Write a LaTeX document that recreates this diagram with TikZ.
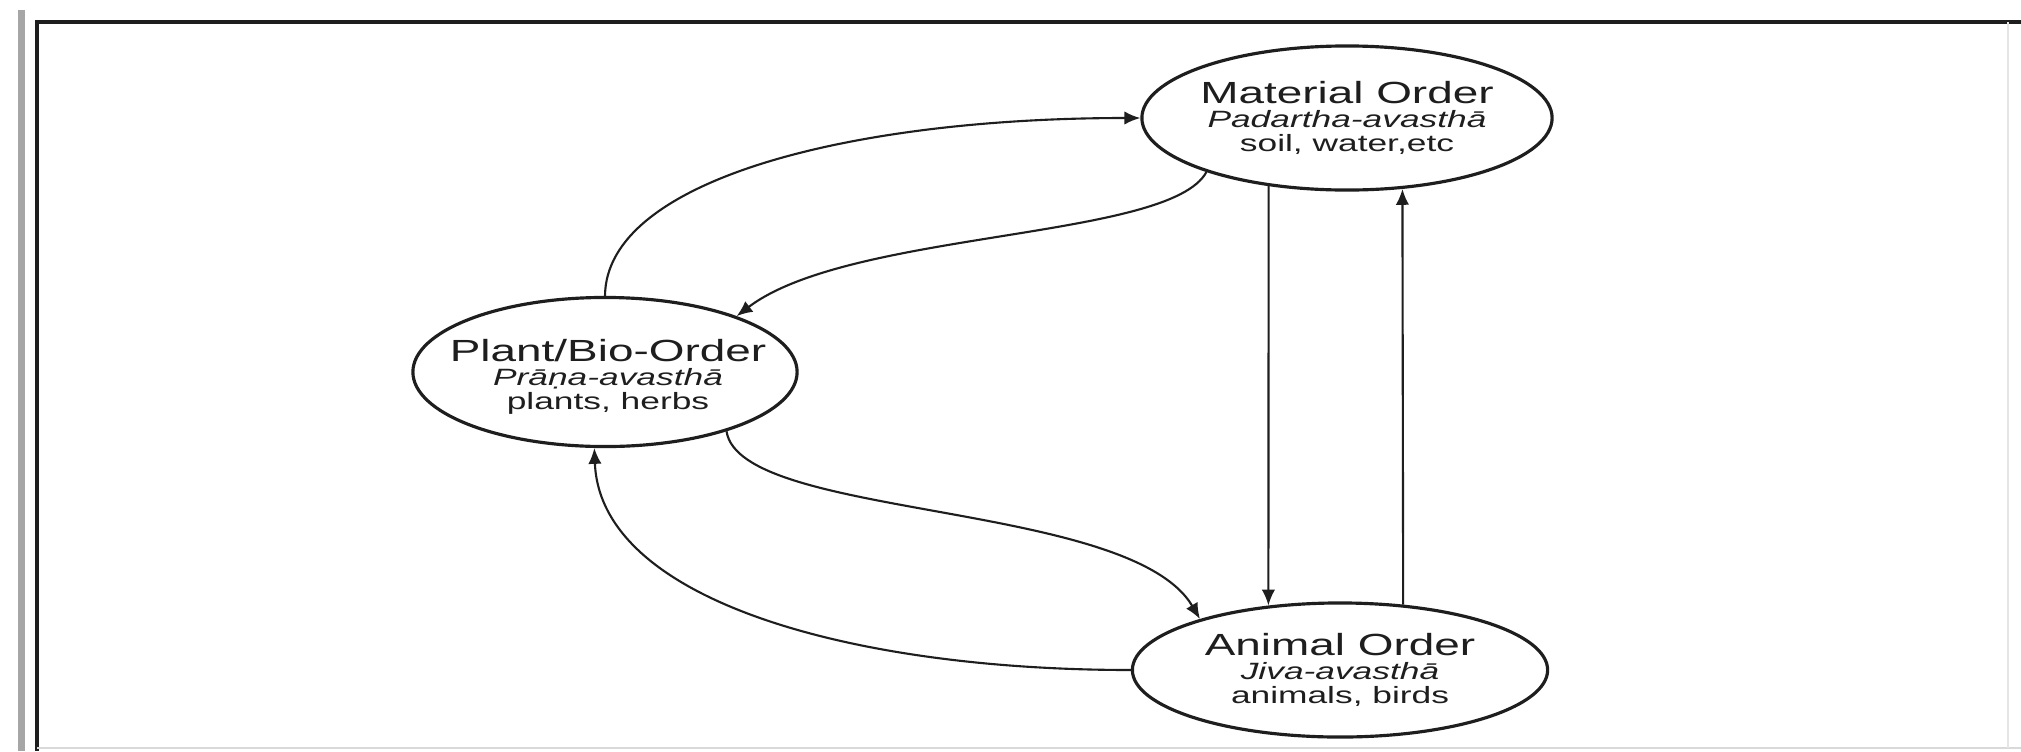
\documentclass[tikz,border=0pt]{standalone}
\usepackage{fontspec}
\usetikzlibrary{shapes.geometric,arrows.meta}
\newfontfamily\wf[FakeStretch=1.5]{Liberation Sans}
\definecolor{ink}{HTML}{1E1E1E}
\begin{document}
\begin{tikzpicture}[x=0.01cm,y=-0.01cm,
  order/.style={ellipse,draw=ink,line width=0.9pt,inner sep=0pt},
  arr/.style={draw=ink,line width=0.6pt,-{Latex[length=4.5pt,width=3.8pt]}},
  lbl/.style={align=center,text=ink,inner sep=0pt,font=\wf\fontsize{6.7}{6.8}\selectfont}]
\useasboundingbox (0,0) rectangle (2021,751);
\fill[white] (0,0) rectangle (2021,751);
% frame
\fill[black!35] (18,10) rectangle (25,751);
\draw[ink,line width=0.9pt] (37,751) -- (37,22) -- (2021,22);
\draw[black!15,line width=0.5pt] (37,748) -- (2021,748);
\draw[black!10,line width=0.5pt] (2008,22) -- (2008,748);
% nodes
\node[order,minimum width=4.1cm,minimum height=1.44cm] (mat) at (1347,118) {};
\node[order,minimum width=3.84cm,minimum height=1.49cm] (plant) at (605,372) {};
\node[order,minimum width=4.15cm,minimum height=1.34cm] (anim) at (1340,670) {};
\node[lbl] (matT) at (1347,118) {{\fontsize{8.7}{6.8}\selectfont Material Order}\\\itshape Padartha-avasthā\\soil, water,etc};
\node[lbl] (plantT) at (608,377) {{\fontsize{8.7}{6.8}\selectfont Plant/Bio-Order}\\\itshape Prāṇa-avasthā\\plants, herbs};
\node[lbl] (animT) at (1340,670) {{\fontsize{8.7}{6.8}\selectfont Animal Order}\\\itshape Jiva-avasthā\\animals, birds};
% connectors
\draw[arr] (plant.90) .. controls (606,180) and (850,118) .. (mat.180);
\draw[arr] (mat.201) .. controls (1170,240) and (850,230) .. (plant.23.3);
\draw[arr] (plant.-26.7) .. controls (740,520) and (1130,500) .. (anim.160.8);
\draw[arr] (anim.180) .. controls (850,670) and (600,600) .. (plant.-98.6);
\draw[arr] (mat.-139.1) -- (anim.138);
\draw[arr] (anim.46.9) -- (mat.-52.7);
\end{tikzpicture}
\end{document}
